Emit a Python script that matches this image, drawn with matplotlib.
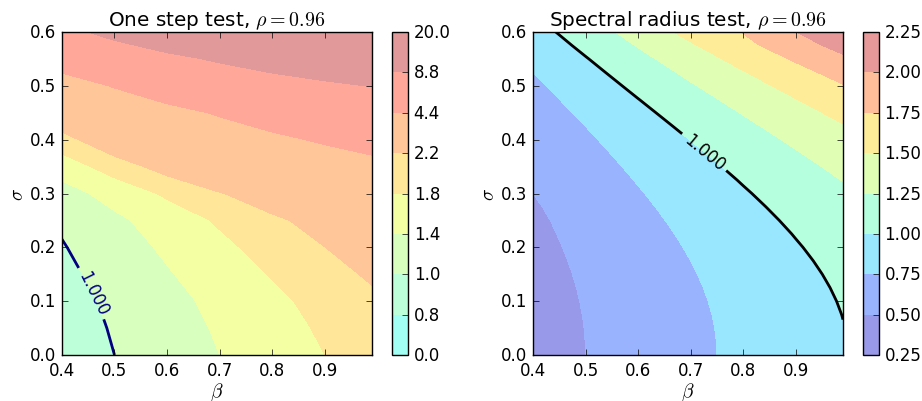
import numpy as np
import matplotlib
matplotlib.use("Agg")
import matplotlib.pyplot as plt
from matplotlib import cm

plt.style.use('classic')
plt.rcParams['font.family'] = ['DejaVu Sans']
plt.rcParams['mathtext.fontset'] = 'cm'

# ---- data grids ----
beta = [0.40, 0.50, 0.60, 0.70, 0.80, 0.90, 0.99]

# one step test: rows = sigma_one, columns = beta
sigma_one = [0.00, 0.05, 0.10, 0.15, 0.20, 0.25, 0.30, 0.35, 0.40, 0.45, 0.50, 0.55, 0.60]
one_step = [
    [0.800, 1.000, 1.200, 1.400, 1.600, 1.800, 1.980],
    [0.824, 1.030, 1.236, 1.442, 1.648, 1.854, 2.039],
    [0.856, 1.070, 1.284, 1.498, 1.712, 1.926, 2.119],
    [0.912, 1.140, 1.368, 1.596, 1.824, 2.052, 2.257],
    [0.976, 1.220, 1.464, 1.708, 1.952, 2.196, 2.416],
    [1.056, 1.320, 1.584, 1.848, 2.112, 2.376, 2.614],
    [1.240, 1.550, 1.860, 2.170, 2.480, 2.790, 3.069],
    [1.584, 1.980, 2.376, 2.772, 3.168, 3.564, 3.920],
    [2.040, 2.550, 3.060, 3.570, 4.080, 4.590, 5.049],
    [2.600, 3.250, 3.900, 4.550, 5.200, 5.850, 6.435],
    [3.600, 4.500, 5.400, 6.300, 7.200, 8.100, 8.910],
    [5.280, 6.600, 7.920, 9.240, 10.56, 11.88, 13.07],
    [7.840, 9.800, 11.76, 13.72, 15.68, 17.64, 19.40],
]

# spectral radius test: rows = sigma_spec, columns = beta
sigma_spec = [0.000, 0.025, 0.050, 0.075, 0.100, 0.125, 0.150, 0.175, 0.200,
              0.225, 0.250, 0.275, 0.300, 0.325, 0.350, 0.375, 0.400, 0.425,
              0.450, 0.475, 0.500, 0.525, 0.550, 0.575, 0.600]
spec_rad = [
    [0.4000, 0.5000, 0.6000, 0.7000, 0.8000, 0.9000, 0.9900],
    [0.4006, 0.5007, 0.6008, 0.7010, 0.8011, 0.9013, 0.9914],
    [0.4020, 0.5028, 0.6034, 0.7039, 0.8045, 0.9051, 0.9956],
    [0.4050, 0.5064, 0.6076, 0.7089, 0.8102, 0.9115, 1.0026],
    [0.4100, 0.5114, 0.6137, 0.7159, 0.8182, 0.9205, 1.0125],
    [0.4145, 0.5179, 0.6215, 0.7250, 0.8286, 0.9322, 1.0254],
    [0.4220, 0.5260, 0.6312, 0.7364, 0.8415, 0.9467, 1.0414],
    [0.4300, 0.5357, 0.6428, 0.7500, 0.8571, 0.9642, 1.0606],
    [0.4400, 0.5471, 0.6565, 0.7659, 0.8753, 0.9848, 1.0832],
    [0.4510, 0.5603, 0.6724, 0.7845, 0.8965, 1.0086, 1.1094],
    [0.4630, 0.5755, 0.6906, 0.8057, 0.9208, 1.0359, 1.1395],
    [0.4800, 0.5927, 0.7113, 0.8298, 0.9484, 1.0669, 1.1736],
    [0.5000, 0.6122, 0.7347, 0.8571, 0.9796, 1.1020, 1.2122],
    [0.5190, 0.6341, 0.7610, 0.8878, 1.0146, 1.1415, 1.2556],
    [0.5400, 0.6587, 0.7904, 0.9221, 1.0539, 1.1856, 1.3042],
    [0.5620, 0.6861, 0.8233, 0.9605, 1.0977, 1.2350, 1.3585],
    [0.5850, 0.7167, 0.8600, 1.0033, 1.1467, 1.2900, 1.4190],
    [0.6100, 0.7507, 0.9008, 1.0510, 1.2011, 1.3513, 1.4864],
    [0.6370, 0.7886, 0.9463, 1.1040, 1.2617, 1.4195, 1.5614],
    [0.6690, 0.8307, 0.9968, 1.1630, 1.3291, 1.4953, 1.6448],
    [0.7050, 0.8775, 1.0530, 1.2285, 1.4040, 1.5795, 1.7375],
    [0.7500, 0.9296, 1.1155, 1.3014, 1.4873, 1.6733, 1.8406],
    [0.8000, 0.9876, 1.1851, 1.3826, 1.5801, 1.7776, 1.9554],
    [0.8500, 1.0521, 1.2625, 1.4729, 1.6833, 1.8937, 2.0831],
    [0.9050, 1.1240, 1.3487, 1.5735, 1.7600, 1.9950, 2.1900],
]

levels_one = [0.0, 0.8, 1.0, 1.4, 1.8, 2.2, 4.4, 8.8, 20.0]
levels_spec = [0.25, 0.50, 0.75, 1.00, 1.25, 1.50, 1.75, 2.00, 2.25]
rho = 0.96


def faded(pos, alpha=0.4):
    out = []
    for p in pos:
        r, g, b, _ = cm.jet(p)
        out.append((1 - alpha + alpha * r, 1 - alpha + alpha * g, 1 - alpha + alpha * b))
    return out


cols_one = faded([0.375 + i * 0.0821 for i in range(8)])
cols_spec = faded([(2 * i + 1) / 16 for i in range(8)])

B1, S1 = np.meshgrid(beta, sigma_one)
B2, S2 = np.meshgrid(beta, sigma_spec)

fig = plt.figure(figsize=(9.22, 4.02), dpi=100, facecolor='white')
ax1 = fig.add_axes([0.0672, 0.1144, 0.3362, 0.8035])
cax1 = fig.add_axes([0.4252, 0.1144, 0.0174, 0.8035])
ax2 = fig.add_axes([0.5781, 0.1144, 0.3362, 0.8035])
cax2 = fig.add_axes([0.936, 0.1144, 0.0174, 0.8035])

# left panel
cs1 = ax1.contourf(B1, S1, np.array(one_step), levels=levels_one, colors=cols_one)
ln1 = ax1.contour(B1, S1, np.array(one_step), levels=[1.0], colors=['#000080'], linewidths=2)
ax1.clabel(ln1, fmt='%.3f', fontsize=12, inline=True, manual=[(0.458, 0.115)])
cb1 = fig.colorbar(cs1, cax=cax1)
cb1.set_ticks(levels_one)
cb1.set_ticklabels(['%.1f' % v for v in levels_one])
ax1.set_title(r'One step test, $\rho = %s$' % rho, fontsize=14.4)

# right panel
cs2 = ax2.contourf(B2, S2, np.array(spec_rad), levels=levels_spec, colors=cols_spec)
ln2 = ax2.contour(B2, S2, np.array(spec_rad), levels=[1.0], colors=['black'], linewidths=2)
ax2.clabel(ln2, fmt='%.3f', fontsize=12, inline=True, manual=[(0.726, 0.377)])
cb2 = fig.colorbar(cs2, cax=cax2)
cb2.set_ticks(levels_spec)
cb2.set_ticklabels(['%.2f' % v for v in levels_spec])
ax2.set_title(r'Spectral radius test, $\rho = %s$' % rho, fontsize=14.4)

for ax in (ax1, ax2):
    ax.set_xlim(0.4, 0.99)
    ax.set_ylim(0.0, 0.6)
    ax.set_xticks([0.4, 0.5, 0.6, 0.7, 0.8, 0.9])
    ax.set_yticks([0.0, 0.1, 0.2, 0.3, 0.4, 0.5, 0.6])
    ax.tick_params(labelsize=12)
    ax.set_xlabel(r'$\beta$', fontsize=14, labelpad=1)
    ax.set_ylabel(r'$\sigma$', fontsize=14, labelpad=2)
for cb in (cb1, cb2):
    cb.ax.tick_params(labelsize=12)

fig.savefig('out.png', dpi=100, facecolor='white')
